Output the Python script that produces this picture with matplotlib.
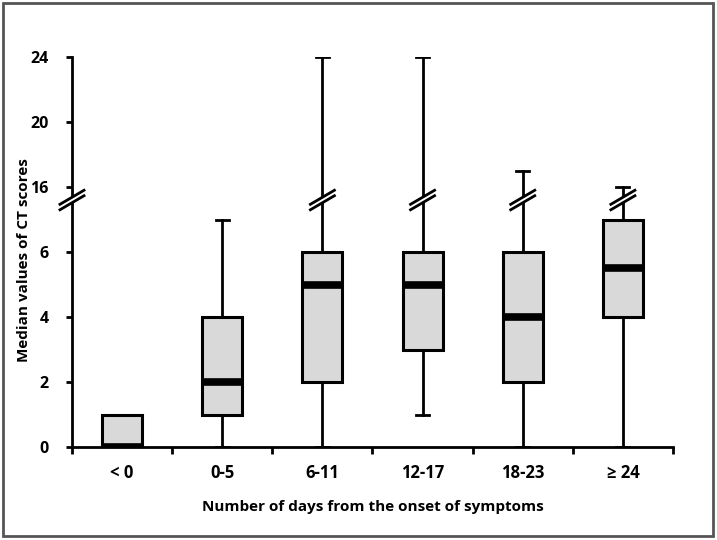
import matplotlib
matplotlib.use('Agg')
import matplotlib.pyplot as plt
import matplotlib.transforms as mtransforms
from matplotlib.patches import Rectangle, Polygon
import numpy as np

plt.rcParams['font.family'] = ['Open Sans', 'DejaVu Sans']
plt.rcParams['font.weight'] = 'bold'
plt.rcParams['font.size'] = 11

# box plot statistics
groups = ['< 0', '0-5', '6-11', '12-17', '18-23', '\u2265 24']
whis_low = [0, 0, 0, 1, 0, 0]
q1 = [0, 1, 2, 3, 2, 4]
median = [0, 2, 5, 5, 4, 5.5]
q3 = [1, 4, 6, 6, 6, 7]
whis_high = [1, 7, 24, 24, 17, 16]

y_ticks = [0, 2, 4, 6, 16, 20, 24]

# broken axis: 0..7.6 shown at full scale, 15.2..24 at half scale
lo_top = 7.6
hi_bot = 15.2
hi_factor = 0.5


def forward(y):
    y = np.asarray(y, dtype=float)
    return np.where(y <= lo_top, y,
                    np.where(y >= hi_bot, lo_top + (y - hi_bot) * hi_factor, lo_top))


def inverse(v):
    v = np.asarray(v, dtype=float)
    return np.where(v <= lo_top, v, hi_bot + (v - lo_top) / hi_factor)


fig = plt.figure(figsize=(7.17, 5.4), dpi=100)
ax = fig.add_axes([0.1004, 0.1722, 0.8382, 0.7222])
ax.set_yscale('function', functions=(forward, inverse))

stats = []
for i in range(len(groups)):
    stats.append({'med': median[i], 'q1': q1[i], 'q3': q3[i],
                  'whislo': whis_low[i], 'whishi': whis_high[i],
                  'fliers': [], 'label': groups[i]})

pos = np.arange(1, len(groups) + 1)
ax.bxp(stats, positions=pos, widths=0.4, patch_artist=True,
       showfliers=False,
       boxprops=dict(facecolor='#d9d9d9', edgecolor='black', linewidth=2.2),
       medianprops=dict(color='black', linewidth=5.5, solid_capstyle='butt'),
       whiskerprops=dict(color='black', linewidth=2),
       capprops=dict(color='black', linewidth=2),
       capwidths=0.13)

ax.set_xlim(0.5, 6.5)
ax.set_ylim(0, 24)
ax.set_yticks(y_ticks)
ax.set_yticklabels([str(t) for t in y_ticks])
ax.set_xticks(pos)
ax.set_xticklabels(groups)
ax.set_xticks(np.arange(0.5, 7, 1), minor=True)
ax.tick_params(axis='x', which='major', length=0, pad=12, labelsize=12)
ax.tick_params(axis='x', which='minor', length=5, width=2, direction='out')
ax.tick_params(axis='y', length=4, width=2, direction='out', pad=13,
               labelsize=11.5)

for s in ['top', 'right']:
    ax.spines[s].set_visible(False)
for s in ['left', 'bottom']:
    ax.spines[s].set_linewidth(2)

ax.set_ylabel('Median values of CT scores', fontweight='bold')
ax.set_xlabel('Number of days from the onset of symptoms', fontweight='bold')
ax.yaxis.set_label_coords(-0.069, 0.48)
ax.xaxis.set_label_coords(0.5, -0.135)

# break marks "//" on the y axis and on the long whiskers
brk = mtransforms.blended_transform_factory(ax.transData, ax.transAxes)
yb = forward(lo_top) / forward(24)
dx = 0.12
dy = 0.018
gap = 0.014
for x in [0.5, 3, 4, 5, 6]:
    poly = Polygon([[x - dx, yb - dy - gap / 2], [x + dx, yb + dy - gap / 2],
                    [x + dx, yb + dy + gap / 2], [x - dx, yb - dy + gap / 2]],
                   closed=True, facecolor='white', edgecolor='none',
                   transform=brk, clip_on=False, zorder=5)
    ax.add_patch(poly)
    for off in [-gap / 2, gap / 2]:
        ax.plot([x - dx, x + dx], [yb - dy + off, yb + dy + off], color='black',
                lw=2, transform=brk, clip_on=False, zorder=6)

fig.patches.append(Rectangle((0.0042, 0.0074), 0.990, 0.987, fill=False,
                             edgecolor='#555555', linewidth=2,
                             transform=fig.transFigure))

fig.savefig('out.png', dpi=100)
